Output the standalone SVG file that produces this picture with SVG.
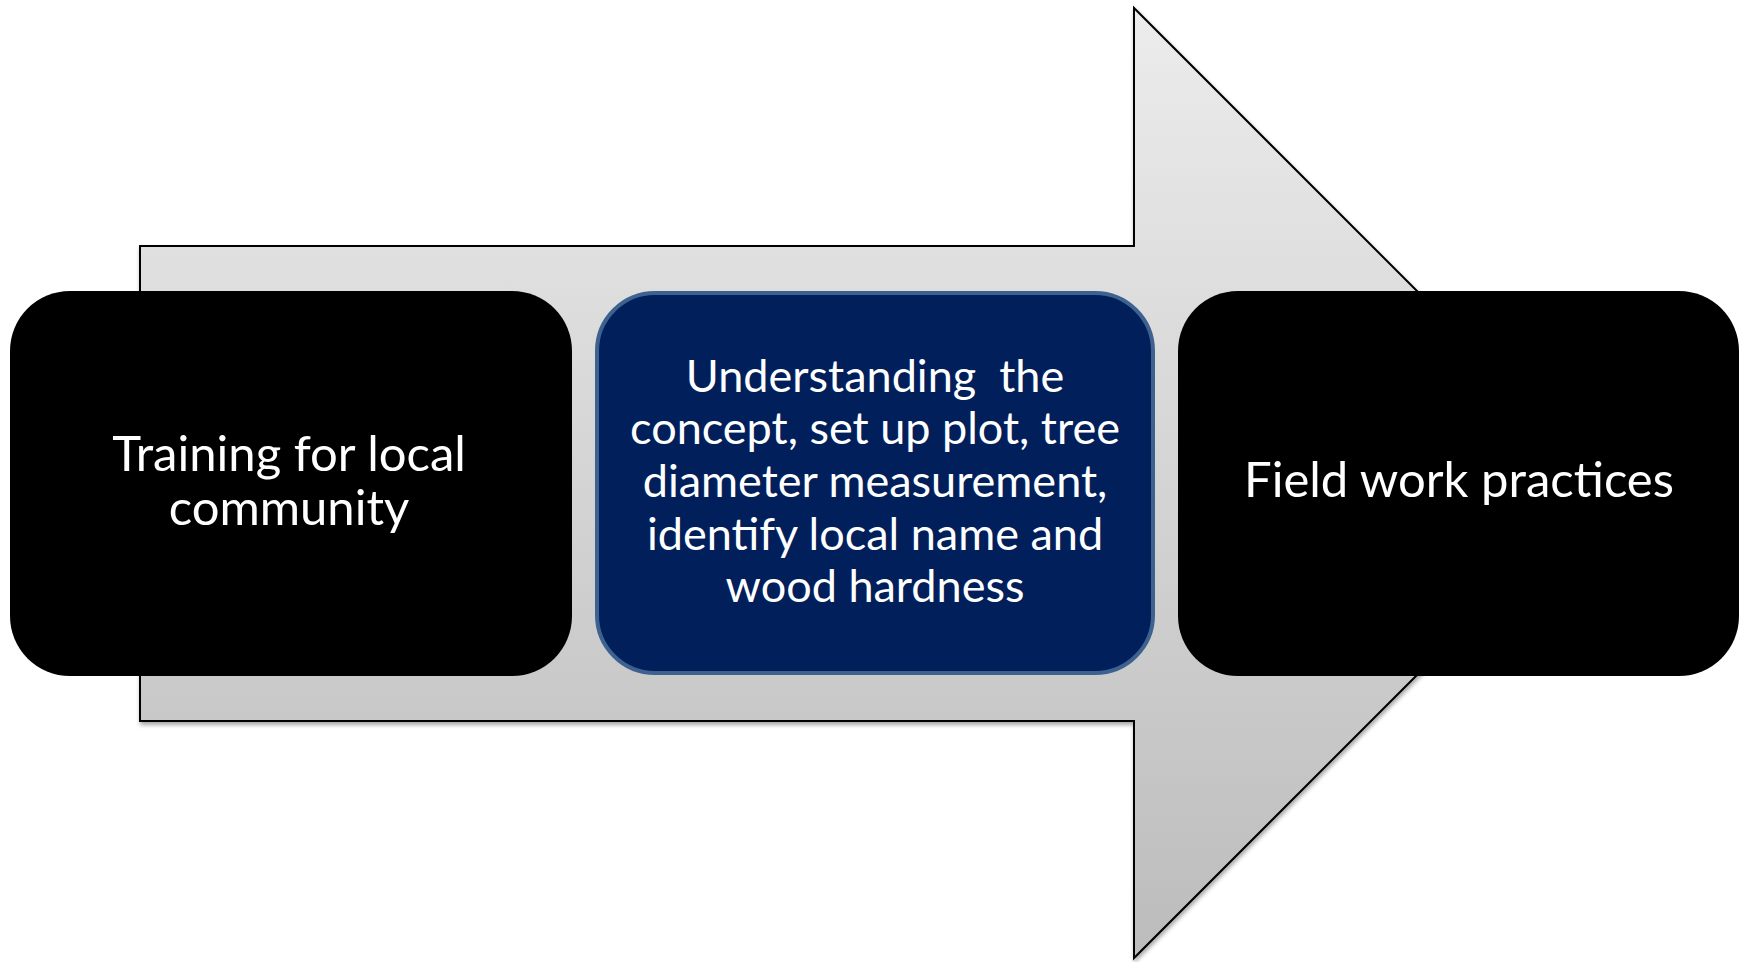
<svg xmlns="http://www.w3.org/2000/svg" width="1747" height="962" viewBox="0 0 1747 962">
  <defs>
    <linearGradient id="arrowGrad" x1="0" y1="0" x2="0" y2="1">
      <stop offset="0" stop-color="#ececec"/>
      <stop offset="1" stop-color="#bcbcbc"/>
    </linearGradient>
    <filter id="shadow" x="-5%" y="-5%" width="110%" height="110%">
      <feGaussianBlur in="SourceAlpha" stdDeviation="2"/>
      <feOffset dx="1" dy="3" result="b"/>
      <feComponentTransfer><feFuncA type="linear" slope="0.35"/></feComponentTransfer>
      <feMerge><feMergeNode/><feMergeNode in="SourceGraphic"/></feMerge>
    </filter>
  </defs>
  <style>
    .box { fill: #000000; }
    .mid { fill: #001f5b; stroke: #3e6290; stroke-width: 4; }
    .lbl { fill: #ffffff; font-family: Lato, "Open Sans", "Liberation Sans", sans-serif; text-anchor: middle; }
  </style>
  <rect width="1747" height="962" fill="#ffffff"/>
  <g id="connectors">
    <polygon points="140,246 1134,246 1134,8 1609,483 1134,958 1134,721 140,721" fill="url(#arrowGrad)" stroke="#000" stroke-width="2" stroke-linejoin="miter" filter="url(#shadow)"/>
  </g>
  <g id="node-training">
    <rect class="box" x="10" y="291" width="562" height="385" rx="60" ry="60"/>
    <text class="lbl" font-size="49"><tspan x="289" y="471">Training for local</tspan><tspan x="289" y="525">community</tspan></text>
  </g>
  <g id="node-understanding">
    <rect class="mid" x="597" y="293" width="556" height="380" rx="58" ry="58"/>
    <text class="lbl" font-size="45"><tspan x="875" y="392">Understanding&#160; the</tspan><tspan x="875" y="444">concept, set up plot, tree</tspan><tspan x="875" y="497">diameter measurement,</tspan><tspan x="875" y="550">identify local name and</tspan><tspan x="875" y="602">wood hardness</tspan></text>
  </g>
  <g id="node-field">
    <rect class="box" x="1178" y="291" width="561" height="385" rx="60" ry="60"/>
    <text class="lbl" font-size="49"><tspan x="1459" y="497">Field work practices</tspan></text>
  </g>
</svg>
